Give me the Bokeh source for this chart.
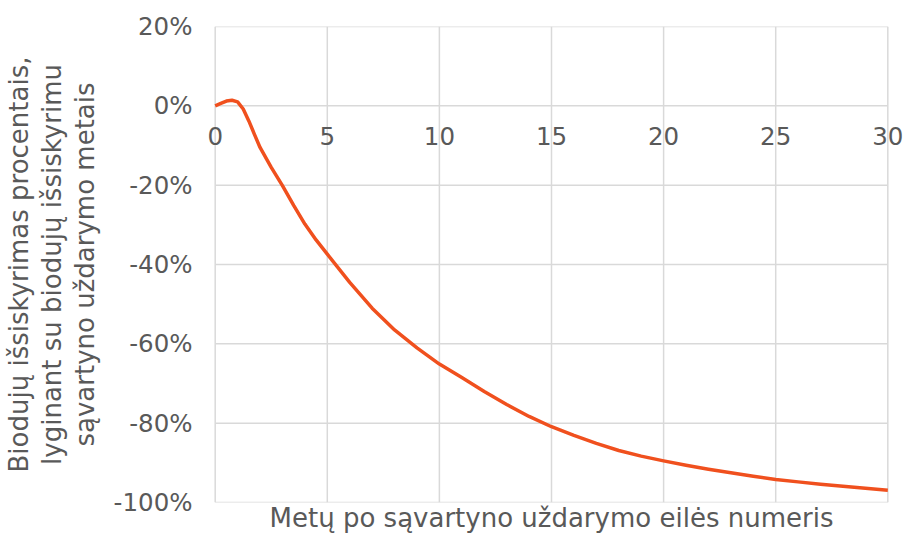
from bokeh.plotting import figure
from bokeh.models import (LinearAxis, FixedTicker, PrintfTickFormatter, Range1d, Label)
from bokeh.embed import file_html
from bokeh.resources import INLINE

years = [0, 0.25, 0.5, 0.75, 1.0, 1.25, 1.5, 1.75, 2, 2.5, 3, 3.5, 4, 4.5, 5, 6, 7, 8, 9, 10,
         11, 12, 13, 14, 15, 16, 17, 18, 19, 20, 21, 22, 23, 24, 25, 26, 27, 28, 29, 30]
change_pct = [0, 0.6, 1.2, 1.4, 1.0, -0.8, -3.8, -7.2, -10.5, -15.5, -20.1, -25.1, -29.8, -33.8,
              -37.4, -44.5, -51, -56.5, -61, -65.1, -68.5, -72, -75.3, -78.3, -80.9, -83.1, -85.1,
              -86.9, -88.3, -89.5, -90.6, -91.6, -92.5, -93.4, -94.2, -94.8, -95.4, -95.9, -96.4, -96.9]
x_ticks = [0, 5, 10, 15, 20, 25, 30]
x_tick_labels = ["0", "5", "10", "15", "20", "25", "30"]
y_ticks = [-100, -80, -60, -40, -20, 0, 20]
x_title = "Metų po sąvartyno uždarymo eilės numeris"
y_title = "Biodujų išsiskyrimas procentais,\nlyginant su biodujų išsiskyrimu\nsąvartyno uždarymo metais"

FONT = "DejaVu Sans"
GREY = "#595959"
GRID = "#d9d9d9"
TICK_SIZE = "24.5px"
TITLE_SIZE = "26px"

x_min, x_max = x_ticks[0], x_ticks[-1]
y_min, y_max = y_ticks[0], y_ticks[-1]

# frame is widened a little beyond 0..30 so the end tick labels are not clipped;
# grid lines are drawn only over the data extent
p = figure(width=903, height=539, output_backend="svg", toolbar_location=None,
           x_range=Range1d(-0.7, 30.7), y_range=Range1d(y_min, y_max),
           x_axis_location=None, y_axis_location=None,
           min_border_left=199, min_border_right=0, min_border_top=26, min_border_bottom=37)
p.outline_line_color = None
p.background_fill_color = "white"
p.xgrid.visible = False
p.ygrid.visible = False

# y axis
yax = LinearAxis(ticker=FixedTicker(ticks=y_ticks), formatter=PrintfTickFormatter(format="%d%%"))
yax.axis_line_color = None
yax.major_tick_line_color = None
yax.minor_tick_line_color = None
yax.major_label_text_font = FONT
yax.major_label_text_font_size = TICK_SIZE
yax.major_label_text_color = GREY
yax.major_label_standoff = 1
yax.axis_label = y_title
yax.axis_label_text_font = FONT
yax.axis_label_text_font_size = TITLE_SIZE
yax.axis_label_text_font_style = "normal"
yax.axis_label_text_color = GREY
yax.axis_label_text_line_height = 1.1
yax.axis_label_standoff = 11
p.add_layout(yax, "left")

# x title axis (no ticks; labels drawn at y = 0 below)
xt = LinearAxis(ticker=FixedTicker(ticks=[]))
xt.axis_line_color = None
xt.major_tick_line_color = None
xt.minor_tick_line_color = None
xt.major_label_text_font_size = "0px"
xt.major_label_standoff = 0
xt.axis_label = x_title
xt.axis_label_text_font = FONT
xt.axis_label_text_font_size = TITLE_SIZE
xt.axis_label_text_font_style = "normal"
xt.axis_label_text_color = GREY
xt.axis_label_standoff = 0
p.add_layout(xt, "below")

# grid lines
p.segment(x0=[x_min] * len(y_ticks), x1=[x_max] * len(y_ticks), y0=y_ticks, y1=y_ticks,
          line_color=GRID, line_width=1.5)
p.segment(x0=x_ticks, x1=x_ticks, y0=[y_min] * len(x_ticks), y1=[y_max] * len(x_ticks),
          line_color=GRID, line_width=1.5)

p.line(years, change_pct, line_color="#F0501E", line_width=3.5, line_join="round")

# x tick labels sitting under the zero line
for xv, lab in zip(x_ticks, x_tick_labels):
    p.add_layout(Label(x=xv, y=0, text=lab, text_align="center", text_baseline="top",
                       y_offset=-21, text_font=FONT, text_font_size=TICK_SIZE,
                       text_color=GREY))

open("out.html", "w").write(file_html(p, INLINE))
